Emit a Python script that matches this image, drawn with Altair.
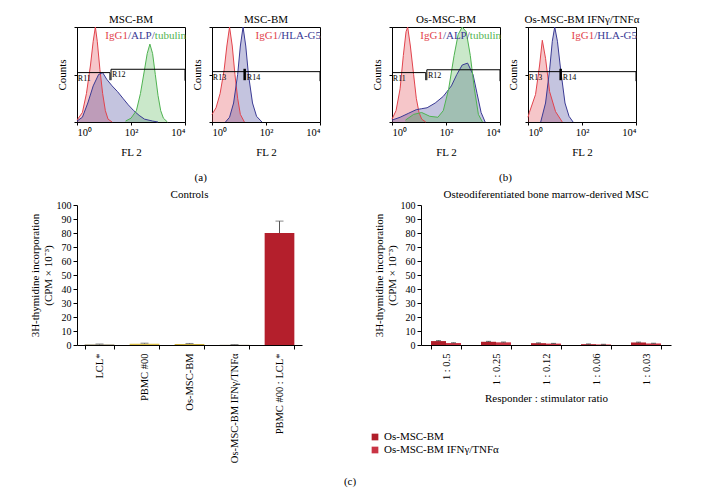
import altair as alt
import pandas as pd

SERIF = "Liberation Serif"
RED = "#e2434c"
NAVY = "#3a3a94"
GREEN = "#4fb351"

# ---------------- (a)/(b) flow cytometry histograms ----------------
# x: FL 2 fluorescence in decades (0 = 10^0 ... 4 = 10^4); y: relative counts
p1_igg_x = [0.0, 0.2, 0.35, 0.5, 0.6, 0.68, 0.75, 0.85, 0.95, 1.05, 1.15, 1.3]
p1_igg_y = [0.02, 0.1, 0.3, 0.6, 0.85, 1.0, 0.85, 0.55, 0.3, 0.12, 0.03, 0.0]
p1_alp_x = [0.0, 0.2, 0.4, 0.6, 0.8, 0.95, 1.1, 1.3, 1.5, 1.7, 1.9, 2.1, 2.3, 2.5, 2.8, 3.0]
p1_alp_y = [0.01, 0.05, 0.2, 0.38, 0.5, 0.52, 0.45, 0.38, 0.32, 0.25, 0.18, 0.12, 0.07, 0.03, 0.01, 0.0]
p1_tub_x = [1.8, 2.0, 2.2, 2.35, 2.5, 2.6, 2.7, 2.8, 2.9, 3.0, 3.1, 3.2, 3.35]
p1_tub_y = [0.01, 0.04, 0.12, 0.3, 0.55, 0.72, 0.82, 0.72, 0.5, 0.28, 0.12, 0.04, 0.0]

p2_igg_x = [0.0, 0.15, 0.3, 0.45, 0.55, 0.65, 0.75, 0.85, 0.95, 1.05, 1.2]
p2_igg_y = [0.08, 0.15, 0.3, 0.55, 0.8, 1.0, 0.8, 0.5, 0.25, 0.08, 0.0]
p2_hla_x = [0.5, 0.65, 0.8, 0.95, 1.05, 1.15, 1.25, 1.35, 1.5, 1.65, 1.85]
p2_hla_y = [0.0, 0.05, 0.2, 0.5, 0.8, 1.0, 0.8, 0.5, 0.2, 0.06, 0.0]

p3_igg_x = [0.0, 0.15, 0.3, 0.42, 0.52, 0.58, 0.68, 0.8, 0.9, 1.0, 1.1, 1.25]
p3_igg_y = [0.03, 0.12, 0.35, 0.7, 0.95, 1.0, 0.8, 0.5, 0.25, 0.1, 0.03, 0.0]
p3_alp_x = [0.0, 0.3, 0.6, 0.9, 1.1, 1.3, 1.6, 1.9, 2.2, 2.4, 2.6, 2.8, 3.0, 3.15, 3.3, 3.45]
p3_alp_y = [0.02, 0.05, 0.09, 0.13, 0.14, 0.15, 0.2, 0.27, 0.38, 0.5, 0.6, 0.62, 0.5, 0.3, 0.1, 0.0]
p3_tub_x = [0.5, 0.8, 1.1, 1.4, 1.7, 1.9, 2.1, 2.3, 2.45, 2.6, 2.75, 2.9, 3.05, 3.2, 3.35]
p3_tub_y = [0.02, 0.08, 0.1, 0.06, 0.05, 0.12, 0.35, 0.7, 0.92, 1.0, 0.95, 0.7, 0.35, 0.08, 0.0]

p4_igg_x = [0.0, 0.05, 0.28, 0.43, 0.53, 0.65, 0.8, 1.02, 1.27]
p4_igg_y = [0.05, 0.1, 0.29, 0.6, 0.86, 0.67, 0.32, 0.11, 0.0]
p4_hla_x = [0.47, 0.65, 0.8, 0.9, 0.99, 1.09, 1.21, 1.37, 1.52, 1.67]
p4_hla_y = [0.0, 0.2, 0.55, 0.85, 1.0, 0.85, 0.55, 0.2, 0.06, 0.0]

# gate markers: names, split position (decades), left/right heights
gate_names = [("R11", "R12"), ("R13", "R14"), ("R11", "R12"), ("R13", "R14")]
gate_split = [1.22, 1.21, 1.25, 1.21]
gate_left = [0.52, 0.53, 0.52, 0.53]
gate_right = [0.555, 0.53, 0.55, 0.53]

panel_titles = ["MSC-BM", "MSC-BM", "Os-MSC-BM", "Os-MSC-BM IFNγ/TNFα"]
tick_labels = ["10⁰", "10¹", "10²", "10³", "10⁴"]

# ---------------- (c) proliferation assays ----------------
ctrl_labels = ["LCL*", "PBMC #00", "Os-MSC-BM", "Os-MSC-BM IFNγ/TNFα", "PBMC #00 : LCL*"]
ctrl_values = [0.4, 0.9, 0.7, 0.2, 80.0]
ctrl_errors = [0.3, 0.4, 0.4, 0.1, 8.5]
ctrl_colors = ["#8f8460", "#dcbf4c", "#c8ac3c", "#c4bca0", "#b41f2c"]

ratio_labels = ["1 : 0.5", "1 : 0.25", "1 : 0.12", "1 : 0.06", "1 : 0.03"]
series_names = ["Os-MSC-BM", "Os-MSC-BM IFNγ/TNFα"]
series_colors = ["#b01e2a", "#c93444"]
os_values = [2.8, 2.3, 1.3, 0.6, 1.8]
os_errors = [0.3, 0.3, 0.2, 0.15, 0.25]
os_ifn_values = [1.4, 1.9, 1.0, 0.4, 1.1]
os_ifn_errors = [0.2, 0.2, 0.15, 0.1, 0.15]


def hist_panel(i, curves, legend_parts, extend_left=False):
    rows = []
    for name, color, xs, ys in curves:
        for x, y in zip(xs, ys):
            rows.append({"fl2": x, "count": y, "curve": name, "color": color})
    df = pd.DataFrame(rows)

    xenc = alt.X("fl2:Q", scale=alt.Scale(domain=[0, 4], nice=False, zero=False),
                 axis=alt.Axis(values=[0, 1, 2, 3, 4], title="FL 2",
                               labelExpr="%s[datum.value]" % str(tick_labels),
                               labelFontSize=10.5, titleFontSize=11, tickSize=3,
                               labelPadding=2, titlePadding=9))
    yenc = alt.Y("count:Q", stack=None, scale=alt.Scale(domain=[0, 1], nice=False),
                 axis=alt.Axis(values=[0, 0.25, 0.5, 0.75, 1], labels=False, title="Counts",
                               titleFontSize=11, tickSize=3, titlePadding=6))

    area = alt.Chart(df).mark_area(fillOpacity=0.3, interpolate="linear").encode(
        x=xenc, y=yenc, color=alt.Color("color:N", scale=None), detail="curve:N")
    line = alt.Chart(df).mark_line(strokeWidth=1, interpolate="linear").encode(
        x=xenc, y=yenc, color=alt.Color("color:N", scale=None), detail="curve:N")

    s, yl, yr = gate_split[i], gate_left[i], gate_right[i]
    thick = gate_names[i][0] == "R13"
    if thick:
        segs = [
            (0, s, yl, yl, 1), (s, 4, yr, yr, 1),
            (s, s, yl - 0.09, yl + 0.03, 2.5), (4, 4, yr, yr - 0.1, 1),
        ]
    else:
        segs = [
            (0, s, yl, yl, 1), (s, s, yl, yl - 0.08, 1),
            (s + 0.04, 4, yr, yr, 1), (s + 0.04, s + 0.04, yl - 0.08, yr, 1),
            (4, 4, yr, yr - 0.12, 1),
        ]
    gdf = pd.DataFrame(segs, columns=["fl2", "fl2_end", "count", "count_end", "w"])
    gates = alt.Chart(gdf).mark_rule(color="black").encode(
        x=xenc, x2="fl2_end:Q", y=yenc, y2="count_end:Q",
        strokeWidth=alt.StrokeWidth("w:Q", scale=None))

    ldf = pd.DataFrame({"fl2": [0.03, s + 0.08], "count": [yl, yr], "t": list(gate_names[i])})
    glabels = alt.Chart(ldf).mark_text(align="left", baseline="top", dy=2, fontSize=8,
                                       font=SERIF, color="black").encode(x=xenc, y=yenc, text="t:N")

    layers = [area, line, gates, glabels]
    dx = 1
    for text, color, width in reversed(legend_parts):
        layers.append(alt.Chart().mark_text(align="right", baseline="top", dx=dx, dy=3,
                                            fontSize=11, font=SERIF, color=color, text=text)
                      .encode(x=alt.datum(4), y=alt.datum(1)))
        dx -= width
    if extend_left:
        # invisible anchor that reserves the left margin of the top row
        layers.append(alt.Chart().mark_point(opacity=0, size=10).encode(
            x=alt.value(-45), y=alt.value(48)))
    return alt.layer(*layers).properties(
        width=108, height=95,
        view=alt.ViewBackground(stroke="black", strokeWidth=1),
        title=alt.TitleParams(panel_titles[i], fontSize=11, font=SERIF,
                              fontWeight="normal", offset=0, color="black"))


alp_legend = [("IgG1", RED, 22.6), ("/ALP/", NAVY, 26.9), ("tubulin", GREEN, 31.2)]
hla_legend = [("IgG1", RED, 22.6), ("/HLA-G5", NAVY, 42.8)]

p1 = hist_panel(0, [("IgG1", RED, p1_igg_x, p1_igg_y), ("ALP", NAVY, p1_alp_x, p1_alp_y),
                    ("tubulin", GREEN, p1_tub_x, p1_tub_y)], alp_legend, extend_left=True)
p2 = hist_panel(1, [("IgG1", RED, p2_igg_x, p2_igg_y), ("HLA-G5", NAVY, p2_hla_x, p2_hla_y)],
                hla_legend)
p3 = hist_panel(2, [("IgG1", RED, p3_igg_x, p3_igg_y), ("ALP", NAVY, p3_alp_x, p3_alp_y),
                    ("tubulin", GREEN, p3_tub_x, p3_tub_y)], alp_legend)
p4 = hist_panel(3, [("IgG1", RED, p4_igg_x, p4_igg_y), ("HLA-G5", NAVY, p4_hla_x, p4_hla_y)],
                hla_legend)

cap_title = dict(orient="bottom", anchor="middle", fontSize=11, font=SERIF,
                 fontWeight="normal", color="black")
pair_a = alt.hconcat(p1, p2, spacing=4, title=alt.TitleParams("(a)", offset=14, dx=25, **cap_title))
pair_b = alt.hconcat(p3, p4, spacing=5, title=alt.TitleParams("(b)", offset=14, **cap_title))
top = alt.hconcat(pair_a, pair_b, spacing=49)

# ---------------- controls bar chart ----------------
ctrl_df = pd.DataFrame({"cond": ctrl_labels, "cpm": ctrl_values, "err": ctrl_errors,
                        "col": ctrl_colors})
ctrl_df["hi"] = ctrl_df["cpm"] + ctrl_df["err"]

y_title = ["3H-thymidine incorporation", "(CPM × 10⁻³)"]
y_axis = alt.Axis(values=list(range(0, 101, 10)), title=y_title, titleFontSize=11,
                  labelFontSize=10, tickSize=4, titlePadding=3, labelPadding=2)

cx = alt.X("cond:N", sort=ctrl_labels, scale=alt.Scale(paddingInner=0.34, paddingOuter=0.17),
           axis=alt.Axis(title=None, labelAngle=-90, tickBand="extent", labelFontSize=10.5,
                         tickSize=4, labelPadding=4))
cy = alt.Y("cpm:Q", scale=alt.Scale(domain=[0, 100]), axis=y_axis)
ctrl_bars = alt.Chart(ctrl_df).mark_bar().encode(x=cx, y=cy, color=alt.Color("col:N", scale=None))
ctrl_err = alt.Chart(ctrl_df).mark_rule(color="#555555").encode(x=cx, y=cy, y2="hi:Q")
ctrl_cap = alt.Chart(ctrl_df).mark_tick(color="#555555", size=8, thickness=1).encode(
    x=cx, y=alt.Y("hi:Q", scale=alt.Scale(domain=[0, 100]), axis=y_axis))
ctrl_chart = alt.layer(ctrl_bars, ctrl_err, ctrl_cap).properties(
    width=225, height=140,
    title=alt.TitleParams("Controls", fontSize=11, font=SERIF, fontWeight="normal",
                          offset=0, color="black"))

# ---------------- osteodifferentiated MSC bar chart ----------------
os_rows = []
for name, vals, errs in [(series_names[0], os_values, os_errors),
                         (series_names[1], os_ifn_values, os_ifn_errors)]:
    for r, v, e in zip(ratio_labels, vals, errs):
        os_rows.append({"ratio": r, "series": name, "cpm": v, "hi": v + e})
os_df = pd.DataFrame(os_rows)

ox = alt.X("ratio:N", sort=ratio_labels, scale=alt.Scale(paddingInner=0.4, paddingOuter=0.2),
           axis=alt.Axis(title="Responder : stimulator ratio", labelAngle=-90, tickBand="extent",
                         labelFontSize=10.5, titleFontSize=11, tickSize=4, labelPadding=4,
                         titlePadding=8))
oy = alt.Y("cpm:Q", scale=alt.Scale(domain=[0, 100]), axis=y_axis)
xoff = alt.XOffset("series:N", sort=series_names, scale=alt.Scale(domain=series_names))
os_color = alt.Color("series:N", sort=series_names,
                     scale=alt.Scale(domain=series_names, range=series_colors), legend=None)
os_bars = alt.Chart(os_df).mark_bar().encode(x=ox, y=oy, xOffset=xoff, color=os_color)
os_err = alt.Chart(os_df).mark_rule(color="#333333").encode(x=ox, xOffset=xoff, y=oy, y2="hi:Q")
os_cap = alt.Chart(os_df).mark_tick(color="#333333", size=5, thickness=1).encode(
    x=ox, xOffset=xoff, y=alt.Y("hi:Q", scale=alt.Scale(domain=[0, 100]), axis=y_axis))

# legend drawn below-left of the plot, one row per series
legend_layers = []
for k, (name, color) in enumerate(zip(series_names, series_colors)):
    ly = 232 + 13 * k
    legend_layers.append(alt.Chart().mark_square(size=45, color=color, opacity=1).encode(
        x=alt.value(-46), y=alt.value(ly)))
    legend_layers.append(alt.Chart().mark_text(align="left", baseline="middle", font=SERIF,
                                               fontSize=11, color="black", text=name).encode(
        x=alt.value(-37), y=alt.value(ly)))

osteo_chart = alt.layer(os_bars, os_err, os_cap, *legend_layers).properties(
    width=250, height=140,
    title=alt.TitleParams("Osteodiferentiated bone marrow-derived MSC", fontSize=11, font=SERIF,
                          fontWeight="normal", offset=0, color="black"))

bottom = alt.hconcat(ctrl_chart, osteo_chart, spacing=69,
                     title=alt.TitleParams("(c)", offset=13, **cap_title))

chart = alt.vconcat(top, bottom, spacing=6).properties(
    background="white",
    padding={"left": 20, "top": 5, "right": 5, "bottom": 5}
).configure_view(
    stroke=None
).configure_axis(
    labelFont=SERIF, titleFont=SERIF, labelColor="black", titleColor="black",
    domainColor="black", tickColor="black", titleFontWeight="normal", grid=False
)

chart.save("out.html", embed_options={"renderer": "svg", "actions": False})
